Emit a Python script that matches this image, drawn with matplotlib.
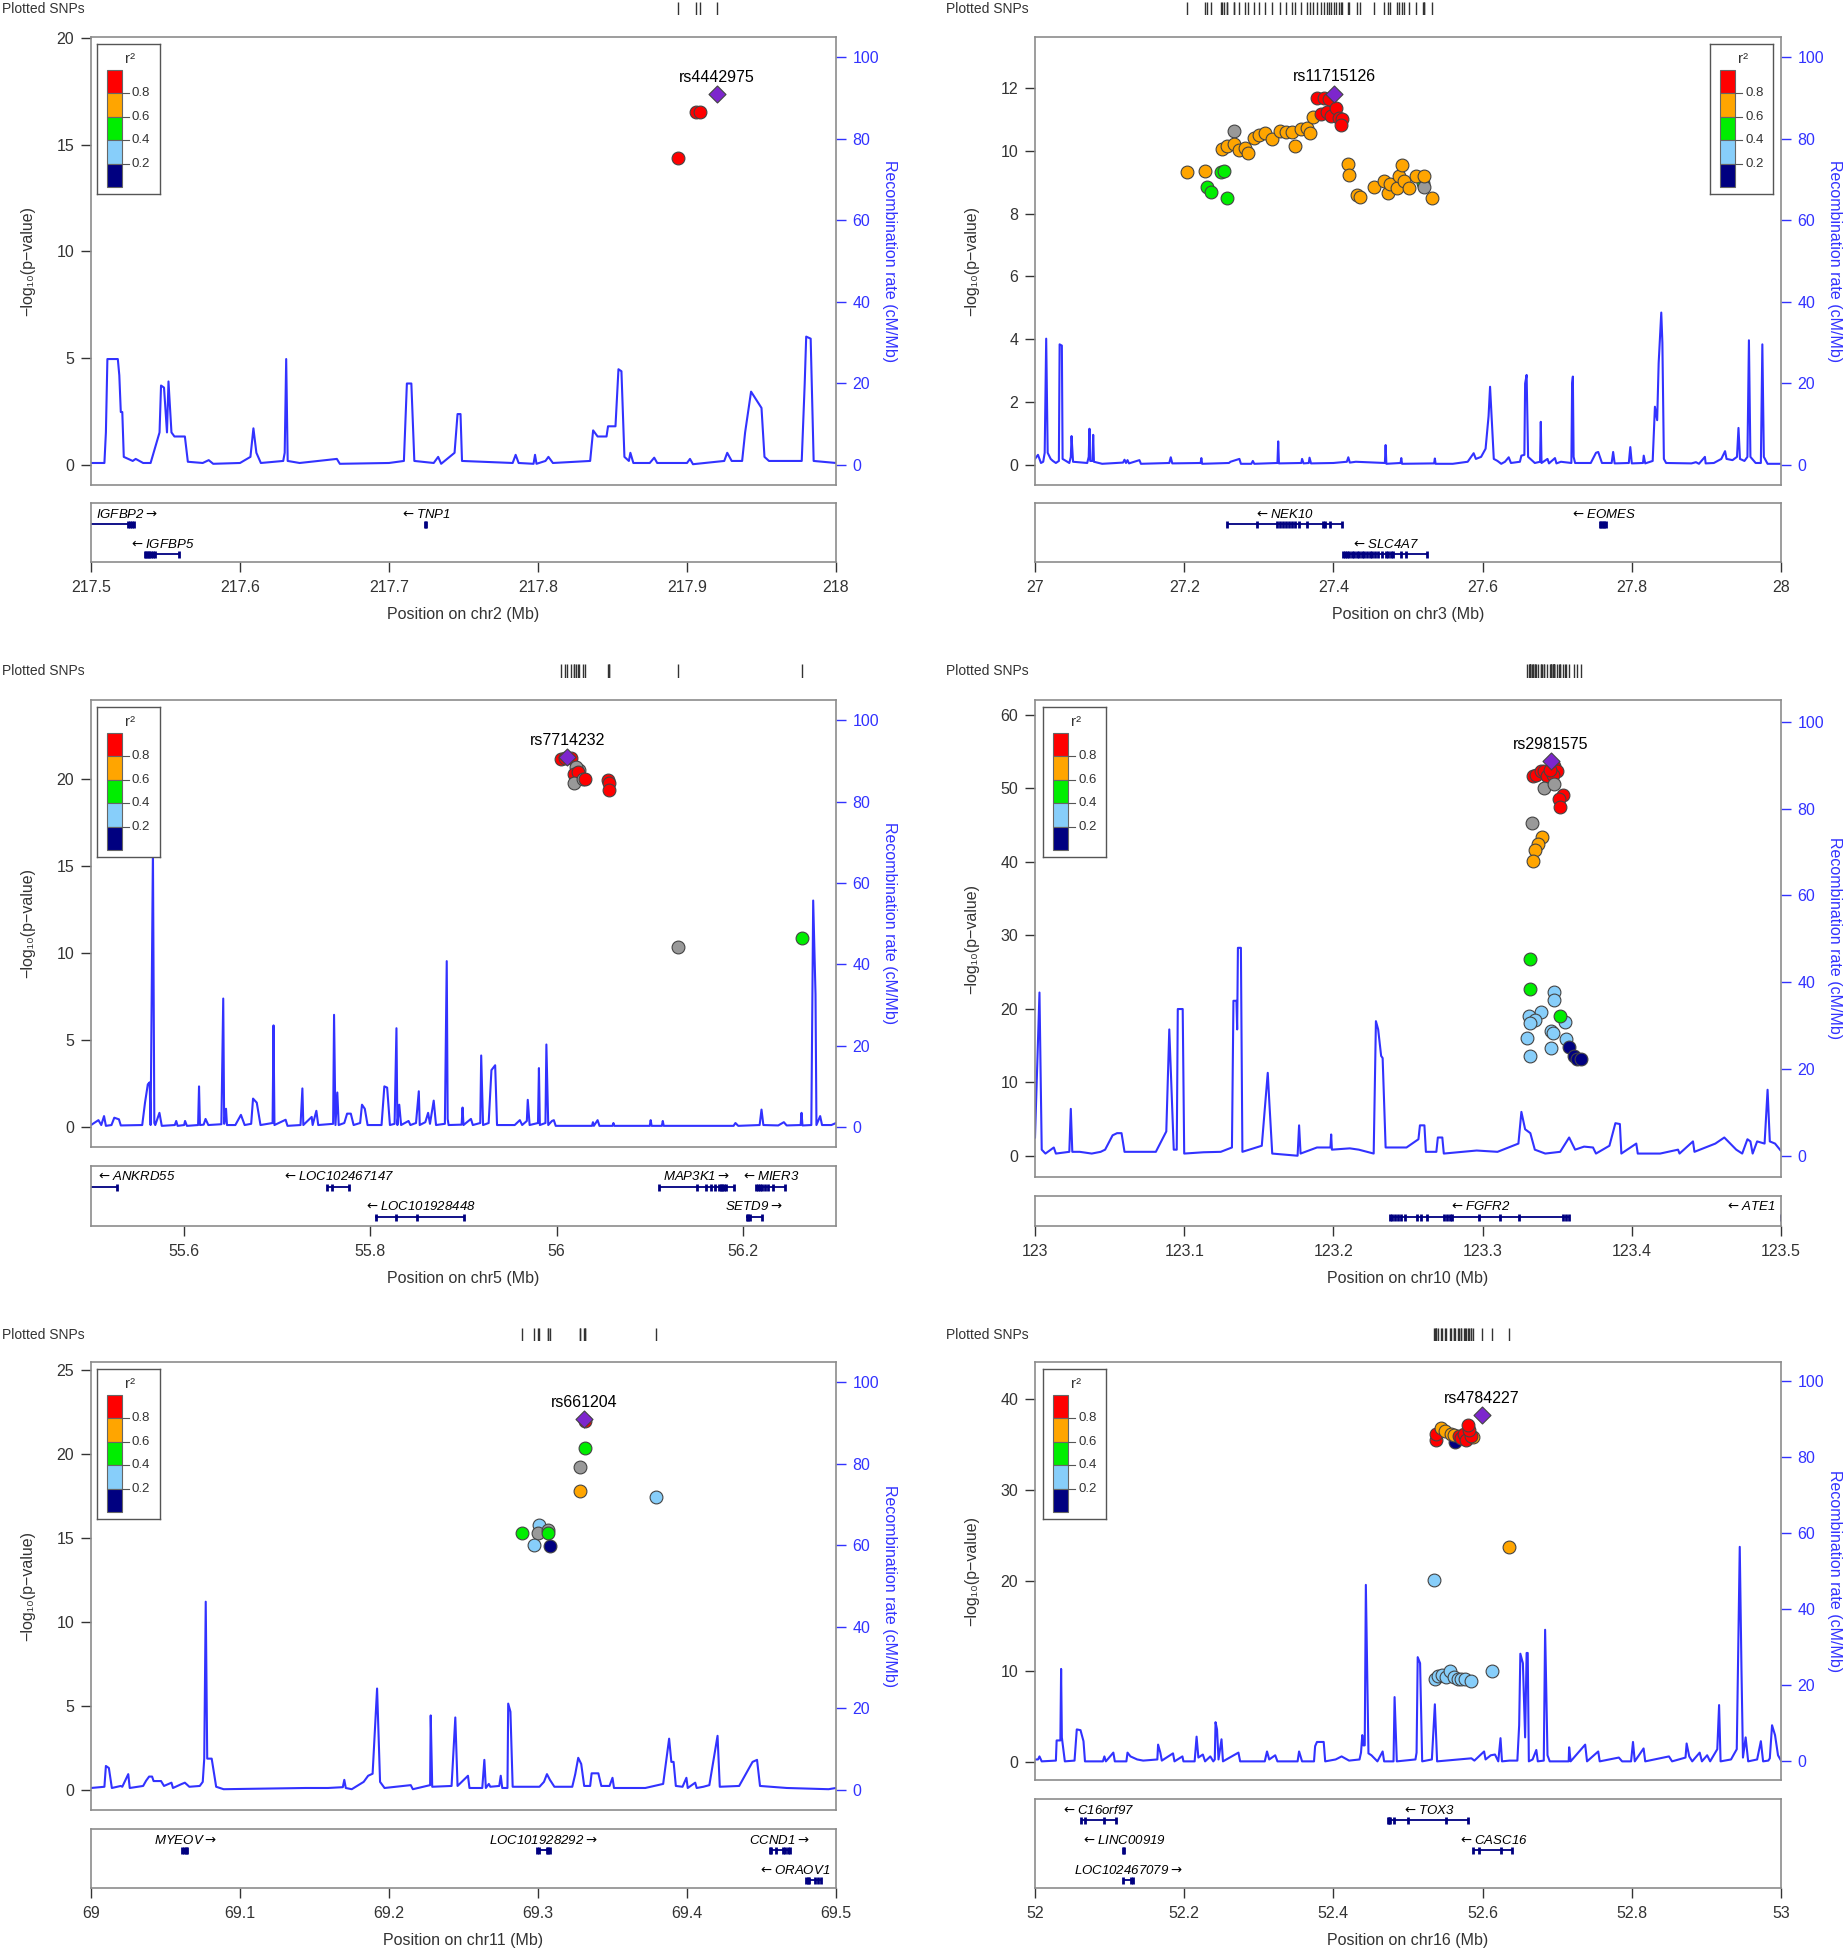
import matplotlib
matplotlib.use("Agg")
import matplotlib.pyplot as plt
from matplotlib.patches import Rectangle

plt.rcParams["font.family"] = ["Liberation Sans", "DejaVu Sans"]
plt.rcParams["mathtext.fontset"] = "dejavusans"

# ---------------- chr2 ----------------
chr2_snp_pos = [217.894, 217.906, 217.909, 217.920]
chr2_snp_logp = [14.39, 16.53, 16.53, 17.36]
chr2_snp_ld = ["r", "r", "r", "p"]
chr2_lead = "rs4442975"
chr2_rec_pos = [217.500, 217.509, 217.510, 217.511, 217.518, 217.519, 217.520, 217.521, 217.522, 217.528,
                217.530, 217.535, 217.540, 217.546, 217.547, 217.549, 217.551, 217.552, 217.554, 217.556,
                217.563, 217.565, 217.575, 217.579, 217.582, 217.600, 217.607, 217.609, 217.611, 217.614,
                217.629, 217.630, 217.631, 217.632, 217.640, 217.665, 217.667, 217.700, 217.710, 217.712,
                217.715, 217.717, 217.730, 217.733, 217.735, 217.744, 217.746, 217.748, 217.749, 217.783,
                217.785, 217.787, 217.797, 217.798, 217.799, 217.805, 217.807, 217.810, 217.835, 217.837,
                217.840, 217.846, 217.847, 217.852, 217.854, 217.856, 217.858, 217.861, 217.862, 217.864,
                217.875, 217.878, 217.880, 217.900, 217.902, 217.904, 217.925, 217.927, 217.930, 217.937,
                217.939, 217.943, 217.950, 217.952, 217.955, 217.977, 217.979, 217.980, 217.983, 217.985,
                218.000]
chr2_rec_rate = [0.5, 0.5, 8, 26, 26, 22, 13, 13, 2, 1,
                 1.5, 0.5, 0.5, 8, 19.5, 19, 8, 20.5, 8, 7,
                 7, 0.8, 0.5, 1.2, 0.3, 0.5, 2, 9, 3, 0.5,
                 1, 3, 26, 1, 0.5, 1.5, 0.3, 0.5, 1, 20,
                 20, 1, 0.5, 2, 0.3, 3, 12.5, 12.5, 1, 0.5,
                 2.5, 0.5, 0.3, 2.5, 0.3, 1, 2, 0.5, 1, 8.5,
                 7, 7, 9.5, 9.5, 23.5, 23, 2, 1, 3, 0.5,
                 0.5, 1.8, 0.5, 0.5, 1.5, 0.2, 1, 3, 1, 1,
                 8, 18, 14, 2, 1, 1, 20, 31.5, 31, 1,
                 0.5]
chr2_gene_names = ["IGFBP2", "IGFBP5", "TNP1"]
chr2_gene_start = [217.497, 217.536, 217.7243]
chr2_gene_end = [217.529, 217.559, 217.7248]
chr2_gene_strand = ["+", "-", "-"]
chr2_gene_row = [0, 1, 0]
chr2_gene_exons = [[217.5246, 217.526, 217.5275, 217.5287],
                   [217.536, 217.537, 217.538, 217.539, 217.540, 217.5415, 217.543, 217.559],
                   [217.7244, 217.7247]]

# ---------------- chr3 ----------------
chr3_snp_pos = [27.204, 27.228, 27.231, 27.236, 27.249, 27.254, 27.258, 27.250, 27.257, 27.267,
                27.267, 27.273, 27.281, 27.285, 27.294, 27.300, 27.308, 27.318, 27.328, 27.336,
                27.344, 27.349, 27.356, 27.364, 27.368, 27.373, 27.378, 27.387, 27.394, 27.383,
                27.391, 27.397, 27.403, 27.408, 27.412, 27.410, 27.419, 27.421, 27.432, 27.436,
                27.455, 27.468, 27.473, 27.476, 27.485, 27.488, 27.492, 27.494, 27.501, 27.520,
                27.522, 27.511, 27.522, 27.532, 27.401]
chr3_snp_logp = [9.31, 9.37, 8.83, 8.69, 9.33, 9.37, 8.49, 10.05, 10.14, 10.63,
                 10.23, 10.03, 10.08, 9.92, 10.40, 10.49, 10.55, 10.37, 10.63, 10.59,
                 10.61, 10.15, 10.69, 10.72, 10.55, 11.08, 11.69, 11.68, 11.65, 11.17,
                 11.23, 11.10, 11.36, 11.04, 11.01, 10.82, 9.59, 9.23, 8.60, 8.54,
                 8.86, 9.03, 8.67, 8.95, 8.80, 9.18, 9.54, 9.03, 8.80, 8.98,
                 8.86, 9.18, 9.18, 8.48, 11.82]
chr3_snp_ld = ["o", "o", "g", "g", "g", "g", "g", "o", "o", "x",
               "o", "o", "o", "o", "o", "o", "o", "o", "o", "o",
               "o", "o", "o", "o", "o", "o", "r", "r", "r", "r",
               "r", "r", "r", "r", "r", "r", "o", "o", "o", "o",
               "o", "o", "o", "o", "o", "o", "o", "o", "o", "g",
               "x", "o", "o", "o", "p"]
chr3_lead = "rs11715126"
chr3_rec_pos = [27.000, 27.004, 27.008, 27.011, 27.013, 27.015, 27.017, 27.021, 27.024, 27.028,
                27.032, 27.033, 27.036, 27.037, 27.046, 27.048, 27.049, 27.051, 27.070, 27.072,
                27.073, 27.074, 27.077, 27.078, 27.079, 27.090, 27.118, 27.120, 27.122, 27.124,
                27.126, 27.140, 27.142, 27.180, 27.182, 27.184, 27.222, 27.223, 27.224, 27.260,
                27.262, 27.274, 27.276, 27.290, 27.292, 27.294, 27.325, 27.326, 27.327, 27.357,
                27.358, 27.360, 27.367, 27.368, 27.370, 27.400, 27.418, 27.420, 27.422, 27.430,
                27.469, 27.470, 27.471, 27.490, 27.491, 27.492, 27.535, 27.536, 27.537, 27.560,
                27.580, 27.588, 27.591, 27.598, 27.604, 27.608, 27.610, 27.612, 27.615, 27.620,
                27.625, 27.630, 27.635, 27.638, 27.650, 27.652, 27.656, 27.657, 27.659, 27.661,
                27.670, 27.677, 27.678, 27.679, 27.687, 27.689, 27.697, 27.699, 27.705, 27.719,
                27.720, 27.721, 27.722, 27.724, 27.745, 27.752, 27.755, 27.760, 27.773, 27.775,
                27.777, 27.796, 27.798, 27.800, 27.815, 27.816, 27.818, 27.828, 27.830, 27.831,
                27.834, 27.836, 27.8395, 27.841, 27.843, 27.846, 27.880, 27.886, 27.890, 27.898,
                27.899, 27.910, 27.920, 27.925, 27.927, 27.935, 27.941, 27.943, 27.945, 27.951,
                27.955, 27.957, 27.959, 27.966, 27.973, 27.975, 27.977, 27.982, 28.000]
chr3_rec_rate = [1.5, 2.5, 0.5, 0.8, 3, 31, 3, 1.5, 1.0, 0.5,
                 1, 29.6, 29.3, 1.5, 0.5, 2, 7.1, 0.8, 0.5, 2,
                 8.9, 1, 1, 7.4, 0.8, 0.3, 0.6, 1.3, 0.5, 1.2,
                 0.4, 1.2, 0.3, 0.5, 1.9, 0.4, 0.5, 1.7, 0.3, 0.5,
                 0.8, 1.5, 0.3, 0.3, 1.0, 0.3, 0.5, 5.8, 0.4, 0.5,
                 1.5, 0.4, 0.5, 1.8, 0.4, 0.5, 0.8, 1.9, 0.6, 0.8,
                 0.5, 4.9, 0.3, 0.5, 1.7, 0.3, 0.4, 1.6, 0.3, 0.3,
                 0.8, 2.9, 1.5, 2, 4, 12, 19.2, 12, 1.5, 1,
                 0.3, 0.8, 1.9, 0.5, 0.8, 2.3, 2.5, 20, 22.1, 2,
                 0.5, 0.8, 10.6, 0.5, 1.5, 0.4, 1.7, 0.4, 0.8, 0.5,
                 20, 21.7, 2, 0.5, 0.5, 3.0, 3.2, 0.5, 0.5, 3.2,
                 0.4, 0.5, 4.4, 0.4, 0.5, 2.3, 0.4, 1, 10, 14.3,
                 11, 25, 37.4, 30, 1.5, 0.5, 0.4, 0.7, 0.3, 2.0,
                 0.4, 0.5, 1.5, 3.4, 1.5, 1.2, 2, 9.1, 1.5, 1,
                 2, 30.6, 2, 0.5, 0.5, 29.6, 2, 0.3, 0.3]
chr3_gene_names = ["NEK10", "SLC4A7", "EOMES"]
chr3_gene_start = [27.257, 27.413, 27.757]
chr3_gene_end = [27.412, 27.526, 27.765]
chr3_gene_strand = ["-", "-", "-"]
chr3_gene_row = [0, 1, 0]
chr3_gene_exons = [[27.257, 27.297, 27.324, 27.328, 27.332, 27.336, 27.340, 27.344, 27.349, 27.354,
                    27.364, 27.386, 27.389, 27.395, 27.412],
                   [27.413, 27.415, 27.418, 27.421, 27.425, 27.428, 27.431, 27.434, 27.438, 27.441,
                    27.445, 27.449, 27.452, 27.456, 27.460, 27.465, 27.470, 27.473, 27.477, 27.480,
                    27.490, 27.497, 27.526],
                   [27.757, 27.759, 27.761, 27.763, 27.765]]

# ---------------- chr5 ----------------
chr5_snp_pos = [56.0044, 56.009, 56.015, 56.024, 56.021, 56.019, 56.023, 56.019, 56.028, 56.030,
                56.0557, 56.056, 56.056, 56.130, 56.263, 56.0113]
chr5_snp_logp = [21.15, 21.22, 21.22, 20.55, 20.70, 20.33, 20.42, 19.77, 20.05, 20.00,
                 19.95, 19.81, 19.39, 10.39, 10.86, 21.27]
chr5_snp_ld = ["r", "r", "r", "x", "x", "r", "r", "x", "x", "r",
               "r", "r", "r", "x", "g", "p"]
chr5_lead = "rs7714232"
chr5_rec_pos = [55.500, 55.508, 55.511, 55.514, 55.516, 55.522, 55.525, 55.530, 55.532, 55.555,
                55.558, 55.561, 55.563, 55.564, 55.5665, 55.568, 55.569, 55.5735, 55.576, 55.590,
                55.5915, 55.593, 55.600, 55.601, 55.603, 55.615, 55.616, 55.617, 55.621, 55.623,
                55.626, 55.640, 55.642, 55.643, 55.645, 55.646, 55.655, 55.661, 55.665, 55.672,
                55.674, 55.678, 55.682, 55.695, 55.696, 55.697, 55.709, 55.711, 55.725, 55.727,
                55.728, 55.737, 55.738, 55.742, 55.744, 55.760, 55.761, 55.7625, 55.7645, 55.766,
                55.772, 55.775, 55.779, 55.782, 55.789, 55.791, 55.794, 55.797, 55.812, 55.815,
                55.818, 55.821, 55.826, 55.828, 55.829, 55.831, 55.833, 55.841, 55.843, 55.849,
                55.852, 55.853, 55.859, 55.862, 55.864, 55.868, 55.8705, 55.880, 55.882, 55.883,
                55.884, 55.898, 55.899, 55.900, 55.908, 55.910, 55.918, 55.919, 55.921, 55.927,
                55.930, 55.934, 55.936, 55.955, 55.9605, 55.963, 55.968, 55.969, 55.971, 55.980,
                55.981, 55.982, 55.988, 55.989, 55.991, 55.995, 55.997, 55.999, 56.020, 56.038,
                56.039, 56.040, 56.044, 56.046, 56.060, 56.061, 56.062, 56.080, 56.100, 56.101,
                56.102, 56.113, 56.114, 56.115, 56.190, 56.192, 56.195, 56.218, 56.220, 56.222,
                56.238, 56.244, 56.247, 56.262, 56.263, 56.264, 56.2735, 56.2755, 56.278, 56.279,
                56.283, 56.285, 56.295, 56.300]
chr5_rec_rate = [0.5, 1.7, 0.5, 2.7, 0.3, 0.5, 2.3, 1.9, 0.4, 0.5,
                 6, 10.5, 11, 0.5, 68, 1, 0.5, 3.5, 0.3, 0.5,
                 1.5, 0.3, 0.5, 1.5, 0.3, 0.5, 10, 0.5, 0.6, 2.0,
                 0.5, 0.7, 31.6, 0.8, 4.5, 0.5, 0.5, 3, 0.5, 0.8,
                 7, 6, 0.5, 1, 25, 0.5, 1.8, 0.3, 0.5, 9.5,
                 0.5, 2.5, 0.5, 4, 0.5, 0.8, 27.6, 0.5, 8.5, 0.5,
                 1, 3.3, 3.3, 0.5, 1, 5.5, 4.5, 0.5, 0.5, 10,
                 9.7, 0.5, 0.8, 24.3, 0.5, 5.5, 0.5, 1.5, 0.5, 1,
                 8.8, 0.5, 1.2, 3.5, 0.8, 6.5, 0.5, 0.8, 40.8, 2,
                 0.5, 0.6, 4.8, 0.5, 2, 0.5, 1, 17.6, 0.5, 1,
                 14, 15.2, 0.5, 0.5, 1.7, 0.5, 1.5, 6.7, 0.5, 1,
                 14.5, 0.5, 1, 20.3, 0.5, 1.5, 1.7, 0.3, 0.3, 0.3,
                 1.2, 0.3, 1.7, 0.3, 0.3, 1, 0.3, 0.3, 0.3, 1.7,
                 0.3, 0.3, 1.5, 0.3, 0.3, 1.0, 0.3, 0.5, 4.3, 0.5,
                 0.4, 1.2, 0.4, 0.5, 3.5, 0.4, 0.5, 55.7, 32.6, 0.5,
                 2.7, 0.5, 0.5, 1.0]
chr5_gene_names = ["ANKRD55", "LOC102467147", "LOC101928448", "MAP3K1", "MIER3", "SETD9"]
chr5_gene_start = [55.450, 55.753, 55.805, 56.110, 56.2138, 56.203]
chr5_gene_end = [55.528, 55.777, 55.901, 56.1906, 56.245, 56.220]
chr5_gene_strand = ["-", "-", "-", "+", "-", "+"]
chr5_gene_row = [0, 0, 1, 0, 0, 1]
chr5_gene_exons = [[55.528],
                   [55.753, 55.759, 55.777],
                   [55.806, 55.828, 55.850, 55.901],
                   [56.110, 56.151, 56.160, 56.166, 56.170, 56.174, 56.176, 56.178, 56.180, 56.182, 56.1906],
                   [56.214, 56.216, 56.218, 56.221, 56.224, 56.227, 56.232, 56.245],
                   [56.204, 56.206, 56.208, 56.220]]

# ---------------- chr10 ----------------
chr10_snp_pos = [123.334, 123.336, 123.339, 123.341, 123.343, 123.348, 123.350, 123.347, 123.345, 123.354,
                 123.351, 123.352, 123.341, 123.348, 123.333, 123.340, 123.337, 123.335, 123.334, 123.332,
                 123.332, 123.348, 123.348, 123.339, 123.331, 123.335, 123.332, 123.355, 123.346, 123.347,
                 123.330, 123.356, 123.346, 123.332, 123.352, 123.358, 123.361, 123.363, 123.366, 123.3458]
chr10_snp_logp = [51.69, 51.86, 52.30, 52.41, 51.69, 53.08, 52.41, 51.86, 52.52, 49.08,
                  48.53, 47.42, 50.03, 50.64, 45.31, 43.32, 42.43, 41.60, 40.04, 26.73,
                  22.74, 22.35, 21.19, 19.52, 18.97, 18.47, 18.03, 18.25, 16.92, 16.64,
                  16.08, 15.92, 14.64, 13.59, 18.97, 14.81, 13.59, 13.20, 13.14, 53.74]
chr10_snp_ld = ["r", "r", "r", "r", "r", "r", "r", "r", "r", "r",
                "r", "r", "x", "x", "x", "o", "o", "o", "o", "g",
                "g", "l", "l", "l", "l", "l", "l", "l", "l", "l",
                "l", "l", "l", "l", "g", "n", "n", "n", "n", "p"]
chr10_lead = "rs2981575"
chr10_rec_pos = [123.000, 123.003, 123.0045, 123.007, 123.0126, 123.014, 123.023, 123.024, 123.025, 123.030,
                 123.038, 123.044, 123.047, 123.052, 123.055, 123.058, 123.060, 123.081, 123.088, 123.090,
                 123.093, 123.095, 123.0957, 123.099, 123.100, 123.113, 123.1245, 123.132, 123.133, 123.135,
                 123.1355, 123.136, 123.138, 123.139, 123.152, 123.156, 123.157, 123.159, 123.176, 123.177,
                 123.178, 123.189, 123.198, 123.1985, 123.199, 123.211, 123.217, 123.227, 123.2285, 123.230,
                 123.232, 123.233, 123.235, 123.240, 123.249, 123.257, 123.258, 123.261, 123.262, 123.269,
                 123.270, 123.273, 123.274, 123.296, 123.310, 123.324, 123.326, 123.3285, 123.332, 123.335,
                 123.342, 123.352, 123.358, 123.362, 123.368, 123.374, 123.376, 123.385, 123.389, 123.392,
                 123.393, 123.403, 123.404, 123.419, 123.431, 123.432, 123.441, 123.442, 123.456, 123.462,
                 123.466, 123.470, 123.474, 123.4775, 123.4795, 123.481, 123.484, 123.489, 123.491, 123.4925,
                 123.496, 123.500]
chr10_rec_rate = [4.2, 37.6, 1.4, 0.5, 1.9, 0.5, 0.9, 10.8, 0.9, 0.9,
                  0.5, 0.9, 1.4, 4.7, 5.2, 5.2, 0.9, 0.9, 5.6, 29.1,
                  1.4, 1.4, 33.8, 33.8, 0.5, 0.8, 0.9, 1.9, 35.7, 35.7,
                  29.1, 47.9, 47.9, 0.9, 2.3, 19.1, 12.7, 0.5, 0.0, 7.0,
                  0.5, 1.9, 1.9, 4.9, 1.4, 1.7, 1.4, 0.5, 31.0, 29.1,
                  23.0, 22.5, 1.9, 1.9, 1.9, 3.8, 7.0, 7.0, 0.9, 0.9,
                  4.2, 4.2, 0.5, 1.2, 0.9, 2.8, 10.1, 6.1, 5.2, 1.4,
                  0.5, 0.9, 4.2, 1.4, 2.1, 1.9, 0.5, 2.3, 7.5, 7.3,
                  0.5, 2.8, 0.5, 0.5, 1.4, 0.5, 3.3, 0.9, 2.8, 4.2,
                  2.8, 1.4, 0.5, 3.8, 3.3, 0.5, 3.3, 2.8, 15.2, 3.3,
                  2.8, 1.1]
chr10_gene_names = ["FGFR2", "ATE1"]
chr10_gene_start = [123.238, 123.4995]
chr10_gene_end = [123.358, 123.688]
chr10_gene_strand = ["-", "-"]
chr10_gene_row = [0, 0]
chr10_gene_exons = [[123.238, 123.2391, 123.2411, 123.2431, 123.2451, 123.2478, 123.2561, 123.2589, 123.2628,
                     123.2739, 123.2759, 123.2779, 123.2798, 123.2976, 123.3115, 123.3241, 123.3538,
                     123.3557, 123.3577],
                    [123.4997]]

# ---------------- chr11 ----------------
chr11_snp_pos = [69.289, 69.301, 69.300, 69.307, 69.307, 69.297, 69.308, 69.328, 69.3283, 69.3315,
                 69.379, 69.3318, 69.3307]
chr11_snp_logp = [15.31, 15.79, 15.31, 15.45, 15.31, 14.59, 14.50, 17.80, 19.23, 20.33,
                  17.46, 21.98, 22.06]
chr11_snp_ld = ["g", "l", "x", "x", "g", "l", "n", "o", "x", "g",
                "l", "r", "p"]
chr11_lead = "rs661204"
chr11_rec_pos = [69.000, 69.009, 69.010, 69.012, 69.014, 69.020, 69.021, 69.025, 69.026, 69.035,
                 69.037, 69.039, 69.041, 69.042, 69.047, 69.049, 69.054, 69.055, 69.061, 69.063,
                 69.066, 69.073, 69.075, 69.076, 69.077, 69.078, 69.081, 69.084, 69.089, 69.144,
                 69.159, 69.169, 69.170, 69.171, 69.175, 69.183, 69.186, 69.189, 69.192, 69.194,
                 69.197, 69.2146, 69.216, 69.2276, 69.228, 69.229, 69.242, 69.2445, 69.246, 69.253,
                 69.254, 69.2626, 69.264, 69.265, 69.267, 69.268, 69.274, 69.275, 69.276, 69.2795,
                 69.280, 69.2815, 69.283, 69.301, 69.304, 69.306, 69.308, 69.311, 69.323, 69.325,
                 69.327, 69.329, 69.331, 69.335, 69.336, 69.3405, 69.3425, 69.348, 69.350, 69.351,
                 69.372, 69.384, 69.388, 69.3895, 69.391, 69.3925, 69.397, 69.3996, 69.4005, 69.4055,
                 69.4065, 69.411, 69.415, 69.4205, 69.422, 69.435, 69.444, 69.447, 69.449, 69.467,
                 69.495, 69.500]
chr11_rec_rate = [0.5, 0.8, 5.9, 5.4, 0.5, 1, 0.8, 3.9, 0.5, 1,
                  2.3, 3.3, 3.3, 2.2, 2.2, 1, 1.8, 0.5, 1.5, 1.8,
                  0.8, 1, 2, 7.7, 46.2, 7.7, 7.7, 0.8, 0.2, 0.5,
                  0.5, 0.7, 2.5, 0.5, 0.2, 2, 3.5, 4, 24.9, 2,
                  0.5, 1.2, 0.2, 1.2, 18.3, 0.8, 1, 17.8, 1, 3.5,
                  0.5, 0.5, 7.4, 0.5, 1.5, 0.8, 1, 3.5, 0.5, 0.5,
                  21.2, 19.2, 0.8, 0.8, 2, 3.9, 2.5, 0.8, 0.8, 3.9,
                  7.9, 6.4, 1, 1, 4.1, 4.1, 1, 1, 3, 0.5,
                  0.5, 1.5, 12.6, 6.9, 6.9, 1, 0.8, 3, 0.5, 1.8,
                  0.5, 0.8, 1.2, 13.3, 0.8, 1, 6.9, 7.4, 1, 0.5,
                  0.2, 0.5]
chr11_gene_names = ["MYEOV", "LOC101928292", "CCND1", "ORAOV1"]
chr11_gene_start = [69.0614, 69.2996, 69.4555, 69.480]
chr11_gene_end = [69.065, 69.308, 69.469, 69.490]
chr11_gene_strand = ["+", "+", "+", "-"]
chr11_gene_row = [0, 0, 0, 1]
chr11_gene_exons = [[69.0614, 69.0625, 69.0636, 69.0647],
                    [69.2996, 69.301, 69.306, 69.307, 69.308],
                    [69.4555, 69.4565, 69.460, 69.4645, 69.466, 69.4675, 69.469],
                    [69.480, 69.481, 69.482, 69.486, 69.488, 69.490]]

# ---------------- chr16 ----------------
chr16_snp_pos = [52.563, 52.5375, 52.5375, 52.5447, 52.549, 52.557, 52.561, 52.569, 52.5715, 52.5755,
                 52.578, 52.5865, 52.585, 52.582, 52.580, 52.635, 52.535, 52.536, 52.540, 52.545,
                 52.551, 52.556, 52.561, 52.567, 52.5715, 52.577, 52.585, 52.612, 52.599]
chr16_snp_logp = [35.25, 35.48, 36.14, 36.81, 36.45, 36.14, 36.05, 35.92, 35.70, 36.14,
                  35.48, 35.79, 35.92, 36.59, 37.16, 23.68, 20.09, 9.18, 9.49, 9.58,
                  9.40, 10.07, 9.31, 9.18, 9.18, 9.09, 8.96, 9.98, 38.23]
chr16_snp_ld = ["n", "r", "r", "o", "o", "o", "o", "r", "r", "r",
                "r", "o", "r", "r", "r", "o", "l", "l", "l", "l",
                "l", "l", "l", "l", "l", "l", "l", "l", "p"]
chr16_lead = "rs4784227"
chr16_rec_pos = [52.000, 52.004, 52.006, 52.009, 52.028, 52.029, 52.034, 52.035, 52.036, 52.040,
                 52.053, 52.056, 52.061, 52.065, 52.067, 52.091, 52.093, 52.095, 52.105, 52.107,
                 52.1225, 52.124, 52.128, 52.137, 52.145, 52.164, 52.165, 52.168, 52.170, 52.185,
                 52.187, 52.1976, 52.199, 52.214, 52.2166, 52.219, 52.225, 52.228, 52.235, 52.239,
                 52.241, 52.242, 52.244, 52.246, 52.250, 52.252, 52.2727, 52.275, 52.308, 52.311,
                 52.314, 52.322, 52.325, 52.352, 52.354, 52.358, 52.374, 52.3755, 52.378, 52.387,
                 52.389, 52.403, 52.411, 52.421, 52.435, 52.437, 52.4387, 52.440, 52.442, 52.4435,
                 52.447, 52.451, 52.459, 52.466, 52.468, 52.4806, 52.482, 52.485, 52.510, 52.5115,
                 52.513, 52.5162, 52.519, 52.532, 52.536, 52.539, 52.585, 52.589, 52.602, 52.604,
                 52.611, 52.6166, 52.621, 52.624, 52.626, 52.636, 52.6466, 52.649, 52.6506, 52.654,
                 52.657, 52.659, 52.6605, 52.662, 52.667, 52.672, 52.674, 52.682, 52.6838, 52.687,
                 52.690, 52.7154, 52.716, 52.718, 52.7375, 52.740, 52.755, 52.757, 52.7826, 52.787,
                 52.799, 52.8016, 52.804, 52.8158, 52.818, 52.8498, 52.854, 52.872, 52.8735, 52.877,
                 52.881, 52.891, 52.894, 52.901, 52.905, 52.9146, 52.917, 52.919, 52.933, 52.9407,
                 52.9447, 52.947, 52.949, 52.9526, 52.956, 52.968, 52.973, 52.976, 52.983, 52.985,
                 52.988, 52.992, 52.996, 53.000]
chr16_rec_rate = [0.5, 0.5, 1.3, 0, 0.2, 5.5, 5.5, 24.3, 6.3, 0,
                  0.2, 8.4, 8.2, 5.3, 0, 0, 1.3, 0, 2.3, 0,
                  0, 2.3, 1.3, 0.5, 0.2, 0.5, 4.4, 2.3, 0.2, 2.1,
                  0, 1.3, 0, 0, 6.5, 1, 1.8, 0, 1.3, 0,
                  0.5, 10.3, 8.4, 0.5, 5.8, 0, 2.3, 0, 0, 2.6,
                  0.5, 1.6, 0, 0, 2.6, 0, 0, 4, 5.1, 5.1,
                  0, 0.5, 1.3, 0.2, 0.5, 2.3, 6.9, 4.2, 4.2, 46.4,
                  2.1, 1.6, 0, 2.6, 0, 0, 16.9, 0, 0.5, 2.3,
                  27.4, 25.8, 0, 0.5, 15, 0, 0.8, 0.2, 2.6, 0.5,
                  1.6, 1.8, 0, 6.1, 0, 0.2, 0.2, 9.5, 28.3, 25.8,
                  6.3, 28.5, 28.5, 0, 0.5, 3, 0, 0.2, 34.6, 1.6,
                  0, 0, 3.7, 0, 4.4, 0, 2.6, 0, 1, 0,
                  0, 5.1, 0, 3.4, 0, 1.3, 0, 1, 4.7, 1.3,
                  0, 2.3, 0, 1.6, 0, 3.2, 14.8, 0, 0.5, 3.2,
                  56.4, 24.3, 1, 6.3, 0, 0.5, 5.3, 0, 0.2, 0.8,
                  9.5, 6.9, 1.6, 0.2]
chr16_gene_names = ["C16orf97", "LINC00919", "LOC102467079", "TOX3", "CASC16"]
chr16_gene_start = [52.061, 52.1183, 52.1186, 52.4727, 52.5866]
chr16_gene_end = [52.108, 52.1192, 52.132, 52.581, 52.640]
chr16_gene_strand = ["-", "-", "+", "-", "-"]
chr16_gene_row = [0, 1, 2, 0, 1]
chr16_gene_exons = [[52.061, 52.067, 52.092, 52.108],
                    [52.1185, 52.119],
                    [52.1186, 52.129, 52.132],
                    [52.4727, 52.4747, 52.476, 52.481, 52.4995, 52.551, 52.581],
                    [52.5866, 52.5953, 52.624, 52.640]]

LD_COLORS = {"n": "#000080", "l": "#87CEFA", "g": "#00EE00", "o": "#FFA500",
             "r": "#FF0000", "x": "#999999", "p": "#7D26CD"}
BLUE = "#3232ff"
NAVY = "#000080"
FRAME = "#8c8c8c"
TEXT = "#333333"
FS = 11.5

W, H = 1845, 1950
fig = plt.figure(figsize=(W / 100, H / 100), dpi=100)


def px_rect(x0, y0, x1, y1):
    return [x0 / W, 1 - y1 / H, (x1 - x0) / W, (y1 - y0) / H]


def fmt(v):
    return "{:g}".format(round(v, 3))


def draw_legend(lx, ly):
    lax = fig.add_axes(px_rect(lx, ly, lx + 63, ly + 150))
    lax.set_xlim(0, 63)
    lax.set_ylim(150, 0)
    lax.set_xticks([])
    lax.set_yticks([])
    for s in lax.spines.values():
        s.set_color("#555555")
        s.set_linewidth(1)
    seg_cols = ["r", "o", "g", "l", "n"]
    seg_h = 117 / 5
    for k, c in enumerate(seg_cols):
        lax.add_patch(Rectangle((10, 26 + k * seg_h), 15, seg_h, facecolor=LD_COLORS[c],
                                edgecolor="#666666", lw=0.8))
    for k, lab in enumerate(["0.8", "0.6", "0.4", "0.2"]):
        y = 26 + (k + 1) * seg_h
        lax.plot([25, 32], [y, y], color="#555555", lw=0.8)
        lax.text(35, y, lab, fontsize=9.5, va="center", ha="left", color=TEXT)
    lax.text(33, 15, "r\u00b2", fontsize=11, ha="center", va="center", color=TEXT)


def draw_genes(gax, xlim, names, starts, ends, strands, rows, exons):
    renderer = fig.canvas.get_renderer()
    box = gax.get_window_extent(renderer)
    mb_per_px = (xlim[1] - xlim[0]) / box.width
    for name, s, e, strand, row, ex in zip(names, starts, ends, strands, rows, exons):
        by = 21 + 30 * row
        gax.plot([s, e], [by, by], color=NAVY, lw=1.3, solid_capstyle="butt")
        gax.vlines(ex, by - 3.5, by + 3.5, color=NAVY, lw=2)
        if strand == "-":
            label = r"$\leftarrow$" + name
        else:
            label = name + r"$\rightarrow$"
        mid = (s + e) / 2
        t = gax.text(mid, by - 10, label, ha="center", va="center", fontsize=9.5,
                     style="italic", color="black")
        bb = t.get_window_extent(renderer)
        shift = 0
        if bb.x0 < box.x0 + 5:
            shift = box.x0 + 5 - bb.x0
        elif bb.x1 > box.x1 - 6:
            shift = box.x1 - 6 - bb.x1
        t.set_x(mid + shift * mb_per_px)


def draw_panel(x0, x1, top, bottom, gtop, gbottom, snp_band, title_x, chrom, xlim, xticks,
               ylim, yticks, legend_x, snp_pos, snp_logp, snp_ld, lead, rec_pos, rec_rate,
               gene_names, gene_start, gene_end, gene_strand, gene_row, gene_exons):
    # main association plot with recombination on a twin axis
    ax = fig.add_axes(px_rect(x0, top, x1, bottom))
    axr = ax.twinx()
    ax.set_zorder(axr.get_zorder() + 1)
    ax.patch.set_visible(False)

    axr.plot(rec_pos, rec_rate, color=BLUE, lw=1.5)
    axr.set_ylim(-4.9, 105)
    axr.set_yticks([0, 20, 40, 60, 80, 100])
    axr.tick_params(axis="y", colors=BLUE, labelsize=FS, length=7, width=1, pad=5)
    axr.set_ylabel("Recombination rate (cM/Mb)", color=BLUE, fontsize=FS, rotation=270,
                   va="center", ha="center")
    axr.yaxis.set_label_coords(1.072, 0.5)
    for s in axr.spines.values():
        s.set_visible(False)

    ax.set_xlim(xlim)
    axr.set_xlim(xlim)
    ax.set_ylim(ylim)
    ax.set_xticks([])
    ax.set_yticks(yticks)
    ax.tick_params(axis="y", colors=TEXT, labelsize=FS, length=7, width=1, pad=5)
    ax.set_ylabel("\u2212log\u2081\u2080(p\u2212value)", fontsize=FS, color=TEXT)
    ax.yaxis.set_label_coords(-0.075, 0.5)
    for s in ax.spines.values():
        s.set_color(FRAME)
        s.set_linewidth(1.2)

    for xp, yp, ld in zip(snp_pos, snp_logp, snp_ld):
        if ld == "p":
            ax.scatter([xp], [yp], s=75, marker="D", color=LD_COLORS["p"],
                       edgecolors="#444444", linewidths=0.8, zorder=4)
            ax.annotate(lead, (xp, yp), xytext=(0, 12), textcoords="offset points",
                        ha="center", va="center", fontsize=FS, color="black")
        else:
            ax.scatter([xp], [yp], s=85, marker="o", color=LD_COLORS[ld],
                       edgecolors="#444444", linewidths=0.8, zorder=3)

    draw_legend(legend_x, top + 7)

    # gene track (carries the x axis)
    gax = fig.add_axes(px_rect(x0, gtop, x1, gbottom))
    gax.set_xlim(xlim)
    gax.set_ylim(gbottom - gtop, 0)
    gax.set_yticks([])
    gax.set_xticks(xticks)
    gax.set_xticklabels([fmt(v) for v in xticks])
    gax.tick_params(axis="x", colors=TEXT, labelsize=FS, length=7, width=1, pad=6)
    for s in gax.spines.values():
        s.set_color(FRAME)
        s.set_linewidth(1.2)
    draw_genes(gax, xlim, gene_names, gene_start, gene_end, gene_strand, gene_row, gene_exons)
    fig.text((x0 + x1) / 2 / W, 1 - (gbottom + 52) / H, "Position on %s (Mb)" % chrom,
             ha="center", va="center", fontsize=FS, color=TEXT)

    # plotted SNPs strip
    tax = fig.add_axes(px_rect(x0, snp_band[0], x1, snp_band[1]))
    tax.set_xlim(xlim)
    tax.set_ylim(0, 1)
    tax.axis("off")
    tax.vlines(snp_pos, 0, 1, color="#333333", lw=1)
    fig.text(title_x / W, 1 - (snp_band[0] + 7) / H, "Plotted SNPs", ha="left", va="center",
             fontsize=10, color=TEXT)


draw_panel(91, 836, 37, 485, 503, 562, (2, 15), 2, "chr2", (217.5, 218.0),
           [217.5, 217.6, 217.7, 217.8, 217.9, 218.0], (-0.94, 20.04), [0, 5, 10, 15, 20], 97,
           chr2_snp_pos, chr2_snp_logp, chr2_snp_ld, chr2_lead, chr2_rec_pos, chr2_rec_rate,
           chr2_gene_names, chr2_gene_start, chr2_gene_end, chr2_gene_strand, chr2_gene_row,
           chr2_gene_exons)

draw_panel(1035, 1781, 37, 485, 503, 562, (2, 15), 946, "chr3", (27.0, 28.0),
           [27.0, 27.2, 27.4, 27.6, 27.8, 28.0], (-0.64, 13.62), [0, 2, 4, 6, 8, 10, 12], 1710,
           chr3_snp_pos, chr3_snp_logp, chr3_snp_ld, chr3_lead, chr3_rec_pos, chr3_rec_rate,
           chr3_gene_names, chr3_gene_start, chr3_gene_end, chr3_gene_strand, chr3_gene_row,
           chr3_gene_exons)

draw_panel(91, 836, 700, 1147, 1166, 1226, (664, 678), 2, "chr5", (55.5, 56.3),
           [55.6, 55.8, 56.0, 56.2], (-1.13, 24.57), [0, 5, 10, 15, 20], 97,
           chr5_snp_pos, chr5_snp_logp, chr5_snp_ld, chr5_lead, chr5_rec_pos, chr5_rec_rate,
           chr5_gene_names, chr5_gene_start, chr5_gene_end, chr5_gene_strand, chr5_gene_row,
           chr5_gene_exons)

draw_panel(1035, 1781, 700, 1177, 1196, 1226, (664, 678), 946, "chr10", (123.0, 123.5),
           [123.0, 123.1, 123.2, 123.3, 123.4, 123.5], (-2.88, 62.0), [0, 10, 20, 30, 40, 50, 60], 1043,
           chr10_snp_pos, chr10_snp_logp, chr10_snp_ld, chr10_lead, chr10_rec_pos, chr10_rec_rate,
           chr10_gene_names, chr10_gene_start, chr10_gene_end, chr10_gene_strand, chr10_gene_row,
           chr10_gene_exons)

draw_panel(91, 836, 1362, 1810, 1829, 1888, (1328, 1341), 2, "chr11", (69.0, 69.5),
           [69.0, 69.1, 69.2, 69.3, 69.4, 69.5], (-1.2, 25.48), [0, 5, 10, 15, 20, 25], 97,
           chr11_snp_pos, chr11_snp_logp, chr11_snp_ld, chr11_lead, chr11_rec_pos, chr11_rec_rate,
           chr11_gene_names, chr11_gene_start, chr11_gene_end, chr11_gene_strand, chr11_gene_row,
           chr11_gene_exons)

draw_panel(1035, 1781, 1362, 1780, 1799, 1888, (1328, 1341), 946, "chr16", (52.0, 53.0),
           [52.0, 52.2, 52.4, 52.6, 52.8, 53.0], (-2.0, 44.1), [0, 10, 20, 30, 40], 1043,
           chr16_snp_pos, chr16_snp_logp, chr16_snp_ld, chr16_lead, chr16_rec_pos, chr16_rec_rate,
           chr16_gene_names, chr16_gene_start, chr16_gene_end, chr16_gene_strand, chr16_gene_row,
           chr16_gene_exons)

fig.savefig("out.png", dpi=100)
